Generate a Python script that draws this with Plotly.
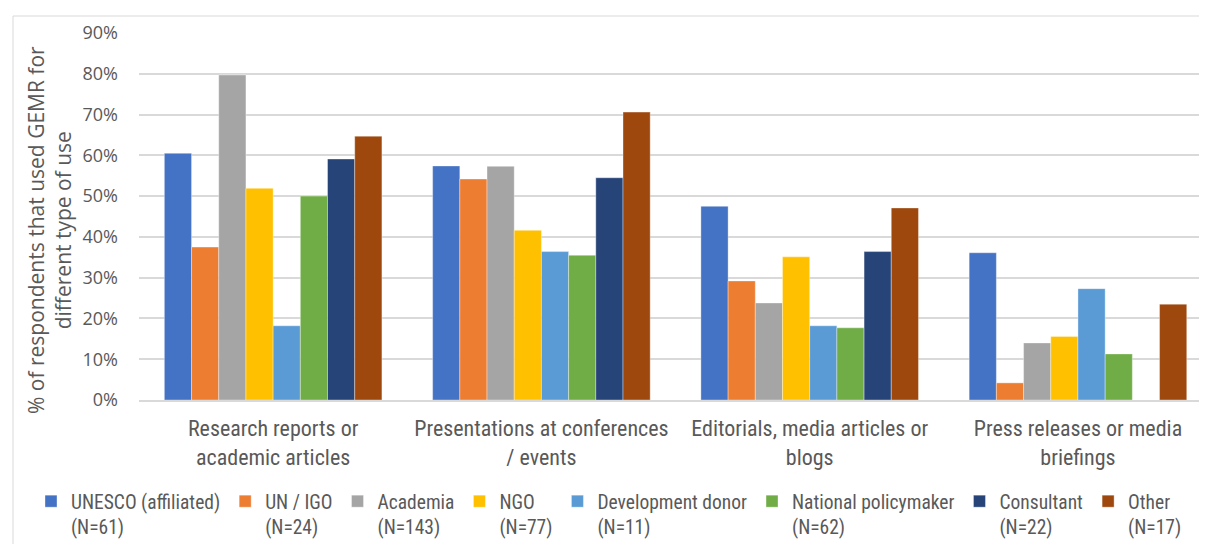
import plotly.graph_objects as go

categories = [
    "Research reports or<br>academic articles",
    "Presentations at conferences<br>/ events",
    "Editorials, media articles or<br>blogs",
    "Press releases or media<br>briefings",
]
series_names = [
    "UNESCO (affiliated)<br>(N=61)",
    "UN / IGO<br>(N=24)",
    "Academia<br>(N=143)",
    "NGO<br>(N=77)",
    "Development donor<br>(N=11)",
    "National policymaker<br>(N=62)",
    "Consultant<br>(N=22)",
    "Other<br>(N=17)",
]
unesco = [0.605, 0.574, 0.475, 0.361]
un_igo = [0.375, 0.542, 0.292, 0.042]
academia = [0.797, 0.573, 0.238, 0.140]
ngo = [0.519, 0.416, 0.351, 0.156]
dev_donor = [0.182, 0.364, 0.182, 0.273]
nat_policy = [0.500, 0.355, 0.177, 0.113]
consultant = [0.591, 0.545, 0.364, 0.0]
other = [0.647, 0.706, 0.471, 0.235]
series_values = [unesco, un_igo, academia, ngo, dev_donor, nat_policy, consultant, other]
colors = ["#4472C4", "#ED7D31", "#A5A5A5", "#FFC000", "#5B9BD5", "#70AD47", "#264478", "#9E480E"]
y_ticks = [0, 0.1, 0.2, 0.3, 0.4, 0.5, 0.6, 0.7, 0.8, 0.9]

narrow = "Liberation Sans Narrow, Arial Narrow, Roboto Condensed, Open Sans, sans-serif"
reg = "Open Sans, Segoe UI, sans-serif"
grey = "#595959"

fig = go.Figure()
for name, vals, col in zip(series_names, series_values, colors):
    fig.add_trace(go.Bar(
        x=list(range(len(categories))), y=vals, name=name,
        marker=dict(color=col, line=dict(color="rgba(255,255,255,0.6)", width=0.6)),
    ))

# page has an 8px body margin, so figure coords = screen coords - 8
W, H = 1199, 536
L, R, T, B = 131, 0, 25, 144
pw, ph = W - L - R, H - T - B
y0 = T + ph  # pixel row of 0%

fig.update_layout(
    width=W, height=H,
    margin=dict(l=L, r=R, t=T, b=B, autoexpand=False),
    paper_bgcolor="white", plot_bgcolor="white",
    barmode="group", bargap=0.189, bargroupgap=0,
    font=dict(family=reg, color=grey),
    xaxis=dict(
        tickmode="array", tickvals=list(range(len(categories))), ticktext=categories,
        range=[-0.5, 3.481], showgrid=False, zeroline=False,
        showline=True, linecolor="#d9d9d9", linewidth=1.5,
        tickfont=dict(family=narrow, size=22, color=grey), ticklabelstandoff=8,
    ),
    yaxis=dict(
        range=[0, 0.9], tickvals=y_ticks, tickformat=".0%",
        showgrid=True, gridcolor="#d9d9d9", gridwidth=1.5, zeroline=False,
        showline=False, tickfont=dict(family=reg, size=18, color=grey),
        ticklabelstandoff=20,
    ),
    legend=dict(
        orientation="h", x=(23 - L) / pw, xanchor="left", y=(y0 - 474) / ph,
        yanchor="top", font=dict(family=narrow, size=19.5, color=grey),
        itemwidth=30, traceorder="normal", tracegroupgap=0, valign="top",
    ),
    showlegend=True,
)

fig.add_annotation(
    text="% of respondents that used GEMR for<br>different type of use",
    xref="paper", yref="paper", x=(41 - L) / pw, y=(y0 - 222) / ph,
    xanchor="center", yanchor="middle", textangle=-90, showarrow=False,
    font=dict(family=reg, size=21, color=grey),
)
fig.add_shape(
    type="rect", xref="paper", yref="paper",
    x0=(5 - L) / pw, x1=1.02, y0=-0.6, y1=(y0 - 8) / ph,
    line=dict(color="#d9d9d9", width=1), fillcolor="rgba(0,0,0,0)", layer="below",
)

fig.write_html("out.html")
